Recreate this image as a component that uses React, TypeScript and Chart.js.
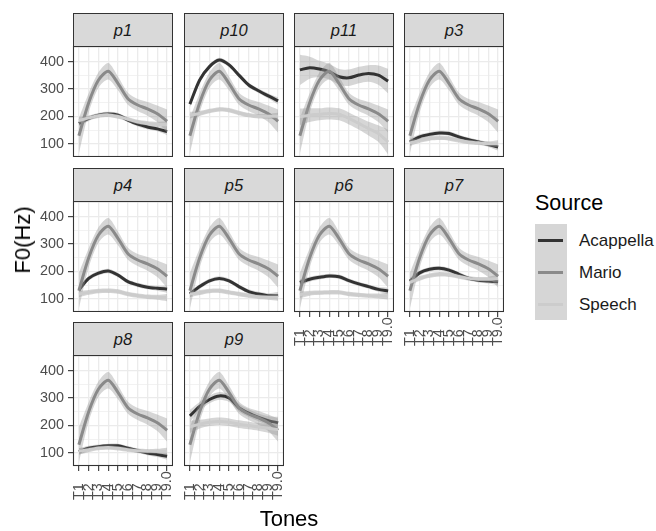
import React, { useEffect, useRef } from "react";
import { Chart, registerables } from "chart.js";

Chart.register(...registerables);

// ---------- data ----------
const TONES = ["T1", "T2", "T3", "T4", "T5", "T6", "T7", "T8", "T9", "T9.0"];
const PANELS = ["p1", "p10", "p11", "p3", "p4", "p5", "p6", "p7", "p8", "p9"];
const SOURCES = ["Acappella", "Mario", "Speech"];
const Y_MAJOR = [100, 200, 300, 400];
const Y_MINOR = [150, 250, 350, 450];

const MARIO = [130, 250, 333, 365, 320, 265, 242, 228, 210, 183];
const MARIO_SE = [65, 35, 28, 30, 25, 22, 22, 25, 30, 42];

const P1_ACAPPELLA = [175, 193, 205, 209, 205, 187, 172, 162, 155, 145];
const P1_SPEECH = [185, 195, 203, 206, 200, 190, 180, 175, 172, 170];
const P10_ACAPPELLA = [245, 333, 382, 406, 388, 351, 315, 294, 275, 257];
const P10_SPEECH = [205, 211, 220, 226, 223, 213, 205, 201, 201, 201];
const P11_ACAPPELLA = [370, 378, 373, 363, 345, 341, 351, 357, 351, 329];
const P11_SPEECH = [199, 205, 208, 211, 208, 193, 175, 156, 138, 107];
const P3_ACAPPELLA = [107, 126, 135, 140, 138, 126, 116, 107, 98, 89];
const P3_SPEECH = [104, 113, 120, 122, 120, 113, 107, 104, 101, 101];
const P4_ACAPPELLA = [133, 175, 194, 202, 187, 163, 151, 143, 139, 136];
const P4_SPEECH = [118, 124, 129, 130, 127, 118, 112, 108, 106, 105];
const P5_ACAPPELLA = [118, 145, 166, 175, 166, 145, 127, 118, 112, 112];
const P5_SPEECH = [118, 123, 129, 130, 124, 118, 112, 108, 106, 106];
const P6_ACAPPELLA = [160, 172, 179, 184, 181, 167, 155, 145, 135, 129];
const P6_SPEECH = [115, 121, 123, 124, 124, 118, 115, 112, 111, 111];
const P7_ACAPPELLA = [165, 195, 208, 212, 205, 190, 175, 168, 165, 163];
const P7_SPEECH = [160, 175, 185, 190, 188, 182, 175, 172, 172, 175];
const P8_ACAPPELLA = [105, 117, 123, 126, 126, 117, 108, 100, 94, 88];
const P8_SPEECH = [106, 112, 118, 120, 117, 112, 108, 106, 106, 106];
const P9_ACAPPELLA = [235, 270, 295, 308, 300, 265, 245, 230, 218, 210];
const P9_SPEECH = [195, 205, 212, 215, 212, 205, 200, 195, 190, 185];

const SE_NARROW = [12, 9, 8, 8, 8, 8, 8, 8, 9, 13];
const P11_ACAPPELLA_SE = [55, 40, 30, 28, 28, 30, 30, 30, 35, 45];
const P11_SPEECH_SE = [30, 25, 22, 22, 22, 22, 22, 25, 30, 45];
const P9_SE = [22, 16, 14, 14, 14, 14, 14, 14, 16, 22];

const PANEL_DATA: Record<string, { acap: number[]; acapSe: number[]; speech: number[]; speechSe: number[] }> = {
  p1: { acap: P1_ACAPPELLA, acapSe: SE_NARROW, speech: P1_SPEECH, speechSe: SE_NARROW },
  p10: { acap: P10_ACAPPELLA, acapSe: SE_NARROW, speech: P10_SPEECH, speechSe: SE_NARROW },
  p11: { acap: P11_ACAPPELLA, acapSe: P11_ACAPPELLA_SE, speech: P11_SPEECH, speechSe: P11_SPEECH_SE },
  p3: { acap: P3_ACAPPELLA, acapSe: SE_NARROW, speech: P3_SPEECH, speechSe: SE_NARROW },
  p4: { acap: P4_ACAPPELLA, acapSe: SE_NARROW, speech: P4_SPEECH, speechSe: SE_NARROW },
  p5: { acap: P5_ACAPPELLA, acapSe: SE_NARROW, speech: P5_SPEECH, speechSe: SE_NARROW },
  p6: { acap: P6_ACAPPELLA, acapSe: SE_NARROW, speech: P6_SPEECH, speechSe: SE_NARROW },
  p7: { acap: P7_ACAPPELLA, acapSe: SE_NARROW, speech: P7_SPEECH, speechSe: SE_NARROW },
  p8: { acap: P8_ACAPPELLA, acapSe: SE_NARROW, speech: P8_SPEECH, speechSe: SE_NARROW },
  p9: { acap: P9_ACAPPELLA, acapSe: P9_SE, speech: P9_SPEECH, speechSe: P9_SE },
};

// ---------- style ----------
const FONT = '"Liberation Sans", Arial, Helvetica, sans-serif';
const LINE_COLORS = ["#333333", "#8A8A8A", "#CCCCCC"];
const RIBBON = "rgba(153,153,153,0.4)";
const TENSION = 0.28;
const Y_MIN = 52.5;
const Y_MAX = 457;

const PLOT_LEFTS = [73, 184, 294, 404];
const PLOT_W = 100;
const STRIP_TOPS = [13, 168, 322];
const STRIP_H = 33;
const PLOT_H = 111;
const ML = 73;
const MB = 45;

const borderPlugin = {
  id: "panelBorder",
  afterDraw(chart: any) {
    const { ctx, chartArea } = chart;
    ctx.save();
    ctx.strokeStyle = "#333333";
    ctx.lineWidth = 1.1;
    ctx.strokeRect(chartArea.left + 0.5, chartArea.top + 0.5, chartArea.right - chartArea.left - 1, chartArea.bottom - chartArea.top - 1);
    ctx.restore();
  },
};

const xLabelPlugin = {
  id: "xLabels",
  afterDraw(chart: any) {
    const { ctx, chartArea } = chart;
    const xs = chart.scales.x;
    const y0 = chartArea.bottom + 34;
    ctx.save();
    ctx.font = `14.4px ${FONT}`;
    ctx.fillStyle = "#4D4D4D";
    ctx.textAlign = "left";
    ctx.textBaseline = "middle";
    TONES.forEach((t, i) => {
      const x = xs.getPixelForValue(i);
      ctx.save();
      ctx.translate(x, y0);
      ctx.rotate(-Math.PI / 2);
      ctx.fillText(t, 0, 0);
      ctx.restore();
    });
    ctx.restore();
  },
};

function pts(vals: number[], se?: number[], sign = 0) {
  return vals.map((v, i) => ({ x: i, y: se ? v + sign * se[i] : v }));
}

function Panel({ index, name }: { index: number; name: string }) {
  const ref = useRef<HTMLCanvasElement | null>(null);
  const row = Math.floor(index / 4);
  const col = index % 4;
  const isLeft = col === 0;
  const isBottom = row === 2 || (row === 1 && col >= 2);
  const ml = isLeft ? ML : 0;
  const mb = isBottom ? MB : 0;
  const plotLeft = PLOT_LEFTS[col];
  const plotTop = STRIP_TOPS[row] + STRIP_H;

  useEffect(() => {
    if (!ref.current) return;
    const d = PANEL_DATA[name];
    const groups = [
      { vals: d.acap, se: d.acapSe, color: LINE_COLORS[0], label: SOURCES[0] },
      { vals: MARIO, se: MARIO_SE, color: LINE_COLORS[1], label: SOURCES[1] },
      { vals: d.speech, se: d.speechSe, color: LINE_COLORS[2], label: SOURCES[2] },
    ];
    const datasets: any[] = [];
    groups.forEach((g) => {
      datasets.push({
        label: g.label + " upper",
        data: pts(g.vals, g.se, 1),
        borderWidth: 0,
        borderColor: "transparent",
        backgroundColor: RIBBON,
        fill: "+1",
        tension: TENSION,
        pointRadius: 0,
      });
      datasets.push({
        label: g.label + " lower",
        data: pts(g.vals, g.se, -1),
        borderWidth: 0,
        borderColor: "transparent",
        backgroundColor: RIBBON,
        fill: false,
        tension: TENSION,
        pointRadius: 0,
      });
      datasets.push({
        label: g.label,
        data: pts(g.vals),
        borderWidth: 3,
        borderColor: g.color,
        backgroundColor: g.color,
        fill: false,
        tension: TENSION,
        pointRadius: 0,
        borderJoinStyle: "round",
      });
    });
    const n = datasets.length;
    datasets.forEach((ds, i) => {
      ds.order = n - i;
      ds.clip = 0;
    });

    const allY = [...Y_MAJOR, ...Y_MINOR].sort((a, b) => a - b);

    const chart = new Chart(ref.current, {
      type: "line",
      data: { datasets },
      options: {
        animation: false,
        responsive: false,
        devicePixelRatio: 1,
        layout: { padding: 0 },
        events: [],
        plugins: {
          legend: { display: false },
          tooltip: { enabled: false },
          title: { display: false },
        },
        elements: { point: { radius: 0 } },
        scales: {
          x: {
            type: "linear",
            min: -0.6,
            max: 9.6,
            border: { display: false },
            afterBuildTicks: (s: any) => {
              s.ticks = TONES.map((_, i) => ({ value: i }));
            },
            afterFit: (s: any) => {
              s.height = mb;
              s.paddingLeft = 0;
              s.paddingRight = 0;
            },
            ticks: { display: false, autoSkip: false },
            grid: {
              color: "#EBEBEB",
              lineWidth: 1.3,
              drawTicks: isBottom,
              tickLength: 5,
              tickColor: "#333333",
              tickWidth: 1.1,
            },
          },
          y: {
            type: "linear",
            min: Y_MIN,
            max: Y_MAX,
            border: { display: false },
            afterBuildTicks: (s: any) => {
              s.ticks = allY.map((v) => ({ value: v }));
            },
            afterFit: (s: any) => {
              s.width = ml;
              s.paddingTop = 0;
              s.paddingBottom = 0;
            },
            ticks: {
              display: isLeft,
              autoSkip: false,
              padding: 4,
              color: "#4D4D4D",
              font: { family: FONT, size: 14.4 },
              callback: (v: any) => (Y_MAJOR.includes(Number(v)) ? String(v) : ""),
            },
            grid: {
              color: "#EBEBEB",
              lineWidth: (c: any) => (c.tick && Y_MAJOR.includes(c.tick.value) ? 1.3 : 0.65),
              drawTicks: isLeft,
              tickLength: 5,
              tickWidth: 1.1,
              tickColor: (c: any) => (c.tick && Y_MAJOR.includes(c.tick.value) ? "#333333" : "rgba(0,0,0,0)"),
            },
          },
        },
      } as any,
      plugins: isBottom ? [borderPlugin, xLabelPlugin] : [borderPlugin],
    });
    return () => chart.destroy();
  }, [name]);

  return (
    <>
      <div
        style={{
          position: "absolute",
          left: plotLeft,
          top: STRIP_TOPS[row],
          width: PLOT_W,
          height: STRIP_H + 1,
          boxSizing: "border-box",
          background: "#D9D9D9",
          border: "1.1px solid #333333",
          display: "flex",
          alignItems: "center",
          justifyContent: "center",
          fontStyle: "italic",
          fontSize: 16.5,
          color: "#1A1A1A",
          fontFamily: FONT,
          lineHeight: 1,
        }}
      >
        {name}
      </div>
      <canvas
        ref={ref}
        width={PLOT_W + ml}
        height={PLOT_H + mb}
        style={{ position: "absolute", left: plotLeft - ml, top: plotTop, width: PLOT_W + ml, height: PLOT_H + mb }}
      />
    </>
  );
}

export default function App() {
  const keyCenters = [240, 272, 304];
  return (
    <div
      style={{
        position: "absolute",
        left: 0,
        top: 0,
        width: 656,
        height: 531,
        background: "#FFFFFF",
        overflow: "hidden",
        fontFamily: FONT,
      }}
    >
      {PANELS.map((p, i) => (
        <Panel key={p} index={i} name={p} />
      ))}
      <div
        style={{
          position: "absolute",
          left: 23,
          top: 240,
          transform: "translate(-50%, -50%) rotate(-90deg)",
          fontSize: 22,
          lineHeight: 1,
          whiteSpace: "nowrap",
          color: "#000000",
        }}
      >
        F0(Hz)
      </div>
      <div
        style={{
          position: "absolute",
          left: 289,
          top: 519,
          transform: "translate(-50%, -50%)",
          fontSize: 22,
          lineHeight: 1,
          whiteSpace: "nowrap",
          color: "#000000",
        }}
      >
        Tones
      </div>
      <div
        style={{ position: "absolute", left: 535, top: 193.3, fontSize: 21.5, lineHeight: 1, color: "#000000", whiteSpace: "nowrap" }}
      >
        Source
      </div>
      <div style={{ position: "absolute", left: 535, top: 224, width: 32, height: 96, background: "#D6D6D6" }} />
      {SOURCES.map((s, i) => (
        <React.Fragment key={s}>
          <div
            style={{
              position: "absolute",
              left: 538,
              top: keyCenters[i] - 1.5,
              width: 25,
              height: 3,
              background: LINE_COLORS[i],
            }}
          />
          <div
            style={{
              position: "absolute",
              left: 579,
              top: keyCenters[i] - 8.3,
              fontSize: 17,
              lineHeight: 1,
              color: "#1A1A1A",
              whiteSpace: "nowrap",
            }}
          >
            {s}
          </div>
        </React.Fragment>
      ))}
    </div>
  );
}
